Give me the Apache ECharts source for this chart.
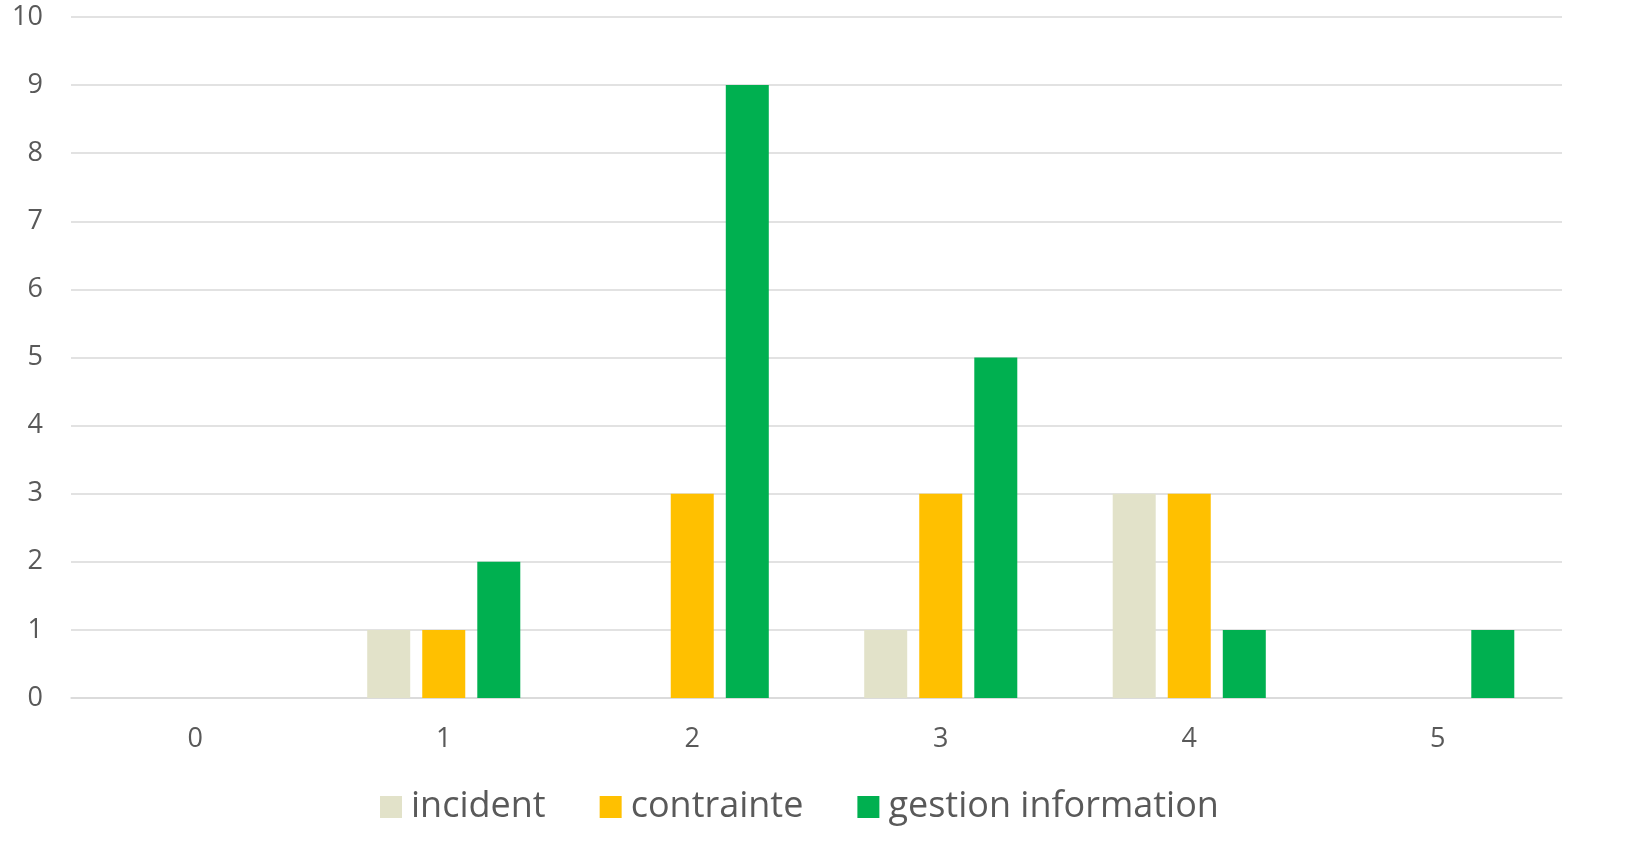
<!DOCTYPE html>
<html>
<head>
<meta charset="utf-8">
<script src="https://cdn.jsdelivr.net/npm/echarts@6/dist/echarts.min.js"></script>
<style>html,body{margin:0;padding:0;background:#fff}#c{width:1629px;height:858px}</style>
</head>
<body>
<div id="c"></div>
<script>
var categories = ['0','1','2','3','4','5'];
var incident = [0,1,0,1,3,0];
var contrainte = [0,1,3,3,3,0];
var gestion = [0,2,9,5,1,1];
var seriesNames = ['incident','contrainte','gestion information'];
var colors = ['#E2E2C9','#FFC000','#00B050'];

var chart = echarts.init(document.getElementById('c'));
var font = 'Open Sans';
chart.setOption({
  animation:false,
  color: colors,
  textStyle:{fontFamily:font},
  grid:{left:71,right:67,top:17,bottom:160},
  legend:{
    top:784,left:375,
    itemWidth:22,itemHeight:22,itemGap:54,
    icon:'rect',
    textStyle:{fontSize:36,color:'#595959',fontFamily:font,padding:[0,0,0,4]},
    data:seriesNames
  },
  xAxis:{
    type:'category',data:categories,
    axisLine:{lineStyle:{color:'#D9D9D9',width:1.5}},
    axisTick:{show:false},
    axisLabel:{fontSize:27,color:'#595959',margin:28,fontFamily:font}
  },
  yAxis:{
    type:'value',min:0,max:10,interval:1,
    axisLine:{show:false},axisTick:{show:false},
    splitLine:{lineStyle:{color:'#D9D9D9',width:1.5}},
    axisLabel:{fontSize:27,color:'#595959',margin:28,fontFamily:font}
  },
  series:[
    {name:seriesNames[0],type:'bar',data:incident,barWidth:43,barGap:'28%'},
    {name:seriesNames[1],type:'bar',data:contrainte,barWidth:43,barGap:'28%'},
    {name:seriesNames[2],type:'bar',data:gestion,barWidth:43,barGap:'28%'}
  ]
});
</script>
</body>
</html>
